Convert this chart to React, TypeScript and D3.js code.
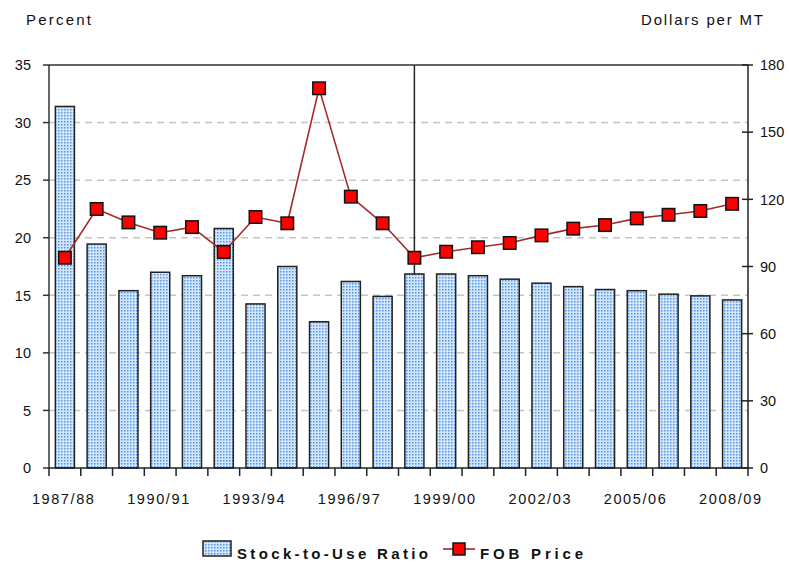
import React from "react";
import * as d3 from "d3";

const categories = [
  "1987/88", "1988/89", "1989/90", "1990/91", "1991/92", "1992/93", "1993/94", "1994/95",
  "1995/96", "1996/97", "1997/98", "1998/99", "1999/00", "2000/01", "2001/02", "2002/03",
  "2003/04", "2004/05", "2005/06", "2006/07", "2007/08", "2008/09",
];
const stockToUse = [
  31.4, 19.45, 15.4, 17.0, 16.7, 20.8, 14.25, 17.5, 12.7, 16.2, 14.9, 16.85,
  16.85, 16.7, 16.4, 16.05, 15.75, 15.5, 15.4, 15.1, 14.95, 14.6,
];
const fobPrice = [
  93.9, 115.7, 109.7, 105.1, 107.6, 96.5, 112.1, 109.3, 169.6, 121.2, 109.3, 93.9,
  96.6, 98.6, 100.5, 103.9, 106.9, 108.5, 111.5, 113.1, 114.8, 118.0,
];
const leftTicks = [0, 5, 10, 15, 20, 25, 30, 35];
const rightTicks = [0, 30, 60, 90, 120, 150, 180];
const xLabelEvery = 3;
const markerCategory = "1998/99";

const W = 789;
const H = 563;
const L = 49;
const R = 748;
const T = 65;
const B = 468;
const FONT = "'Liberation Sans', Arial, sans-serif";

export default function App() {
  const x = d3.scaleBand<string>().domain(categories).range([L, R]).padding(0);
  const yL = d3.scaleLinear().domain([0, 35]).range([B, T]);
  const yR = d3.scaleLinear().domain([0, 180]).range([B, T]);
  const bw = x.bandwidth();
  const barW = bw * 0.6;
  const cx = (c: string) => (x(c) as number) + bw / 2;

  const line = d3
    .line<number>()
    .x((_, i) => cx(categories[i]))
    .y((d) => yR(d));

  const mIdx = categories.indexOf(markerCategory);
  const ms = 12.5;

  return (
    <svg
      width={W}
      height={H}
      style={{ position: "absolute", left: 0, top: 0, background: "#fff" }}
      fontFamily={FONT}
    >
      <defs>
        <pattern id="dots" width="3" height="3" patternUnits="userSpaceOnUse">
          <rect width="3" height="3" fill="#d3e6fb" />
          <rect x="1" y="1" width="1.5" height="1.5" fill="#4f95e6" />
        </pattern>
      </defs>
      <rect width={W} height={H} fill="#fff" />

      {/* axis titles */}
      <text x={26} y={25} fontSize={15} textLength={65} lengthAdjust="spacing" fill="#111">
        Percent
      </text>
      <text x={641} y={25} fontSize={15} textLength={122} lengthAdjust="spacing" fill="#111">
        Dollars per MT
      </text>

      {/* gridlines */}
      {leftTicks
        .filter((t) => t > 0 && t < 35)
        .map((t) => (
          <line
            key={"g" + t}
            x1={L}
            x2={R}
            y1={yL(t)}
            y2={yL(t)}
            stroke="#c4c4c4"
            strokeWidth={1.5}
            strokeDasharray="7,5"
          />
        ))}

      {/* bars */}
      {categories.map((c, i) => (
        <rect
          key={"b" + c}
          x={cx(c) - barW / 2}
          y={yL(stockToUse[i])}
          width={barW}
          height={B - yL(stockToUse[i])}
          fill="url(#dots)"
          stroke="#222"
          strokeWidth={1.5}
        />
      ))}

      {/* vertical marker line */}
      <line
        x1={cx(markerCategory)}
        x2={cx(markerCategory)}
        y1={T}
        y2={yL(stockToUse[mIdx])}
        stroke="#222"
        strokeWidth={1.5}
      />

      {/* price line */}
      <path d={line(fobPrice) || ""} fill="none" stroke="#a52a2a" strokeWidth={1.6} />
      {categories.map((c, i) => (
        <rect
          key={"m" + c}
          x={cx(c) - ms / 2}
          y={yR(fobPrice[i]) - ms / 2}
          width={ms}
          height={ms}
          fill="#ff0000"
          stroke="#111"
          strokeWidth={1.5}
        />
      ))}

      {/* frame */}
      <line x1={L} x2={R} y1={T} y2={T} stroke="#333" strokeWidth={1.5} />
      <line x1={L} x2={L} y1={T} y2={B} stroke="#333" strokeWidth={1.5} />
      <line x1={R} x2={R} y1={T} y2={B} stroke="#222" strokeWidth={1.5} />
      <line x1={L} x2={R} y1={B} y2={B} stroke="#222" strokeWidth={1.5} />

      {/* left axis */}
      {leftTicks.map((t) => (
        <g key={"l" + t}>
          <line x1={L - 6} x2={L} y1={yL(t)} y2={yL(t)} stroke="#333" strokeWidth={1.5} />
          <text x={31} y={yL(t)} dy="0.36em" textAnchor="end" fontSize={14.5} fill="#111">
            {t}
          </text>
        </g>
      ))}

      {/* right axis */}
      {rightTicks.map((t) => (
        <g key={"r" + t}>
          <line x1={R - 6} x2={R + 5} y1={yR(t)} y2={yR(t)} stroke="#222" strokeWidth={1.5} />
          <text x={760} y={yR(t)} dy="0.36em" textAnchor="start" fontSize={14.5} fill="#111">
            {t}
          </text>
        </g>
      ))}

      {/* x axis ticks */}
      {categories.map((c) => (
        <line
          key={"xt" + c}
          x1={x(c) as number}
          x2={x(c) as number}
          y1={B}
          y2={B + 8}
          stroke="#222"
          strokeWidth={1.5}
        />
      ))}
      <line x1={R} x2={R} y1={B} y2={B + 8} stroke="#222" strokeWidth={1.5} />
      {categories.map((c, i) =>
        i % xLabelEvery === 0 ? (
          <text
            key={"xl" + c}
            x={cx(c) - 2}
            y={504}
            textAnchor="middle"
            fontSize={14.5}
            textLength={62}
            lengthAdjust="spacing"
            fill="#111"
          >
            {c}
          </text>
        ) : null
      )}

      {/* legend */}
      <rect x={203} y={541} width={28} height={15} fill="url(#dots)" stroke="#222" strokeWidth={1.5} />
      <text
        x={237}
        y={559}
        fontSize={15}
        fontWeight="bold"
        textLength={191}
        lengthAdjust="spacing"
        fill="#111"
      >
        Stock-to-Use Ratio
      </text>
      <line x1={443} x2={475} y1={549} y2={549} stroke="#a52a2a" strokeWidth={1.6} />
      <rect x={453} y={543} width={12} height={12} fill="#ff0000" stroke="#111" strokeWidth={1.5} />
      <text
        x={480}
        y={559}
        fontSize={15}
        fontWeight="bold"
        textLength={103}
        lengthAdjust="spacing"
        fill="#111"
      >
        FOB Price
      </text>
    </svg>
  );
}
